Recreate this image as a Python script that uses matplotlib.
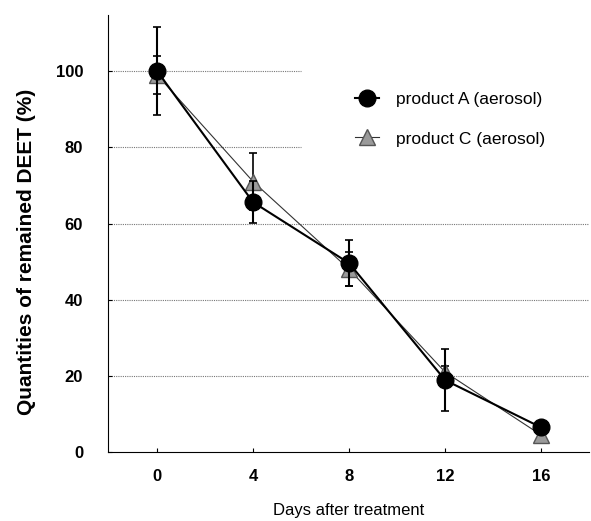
import numpy as np
import matplotlib.pyplot as plt
from matplotlib.lines import Line2D

plt.rcParams['font.family'] = ['Liberation Sans', 'DejaVu Sans']

# dati
days = [0, 4, 8, 12, 16]
prod_a = [100, 65.6, 49.6, 18.9, 6.5]
err_a = [11.5, 5.5, 6.0, 8.2, 1.5]
prod_c = [99, 71, 48, 21, 4.5]
err_c = [5.0, 7.5, 4.5, 1.5, 1.0]

yticks = [0, 20, 40, 60, 80, 100]

fig = plt.figure(figsize=(5.91, 5.21), dpi=100)
ax = fig.add_axes([0.183, 0.132, 0.814, 0.839])

# linee di griglia punteggiate (quelle alte si fermano prima della legenda)
for yv in yticks[1:]:
    xmax = 6 if yv >= 80 else 18
    ax.hlines(yv, -2, xmax, colors='#777777', linestyles=(0, (1, 1)), linewidth=0.8, zorder=1)

ax.errorbar(days, prod_c, yerr=err_c, color='#333333', linewidth=0.8,
            marker='^', markersize=11, markerfacecolor='#9a9a9a', markeredgecolor='#555555',
            ecolor='black', elinewidth=1.2, capsize=3, capthick=1.2, zorder=3)
ax.errorbar(days, prod_a, yerr=err_a, color='black', linewidth=1.5,
            marker='o', markersize=12, markerfacecolor='black', markeredgecolor='black',
            ecolor='black', elinewidth=1.5, capsize=3, capthick=1.2, zorder=4)

ax.set_xlim(-2.04, 18)
ax.set_ylim(0, 114.7)
ax.set_xticks(days)
ax.set_yticks(yticks)
ax.tick_params(direction='in', length=3, labelsize=12)
ax.tick_params(axis='x', pad=12)
ax.tick_params(axis='y', pad=18)
for lab in ax.get_xticklabels() + ax.get_yticklabels():
    lab.set_fontweight('bold')

ax.spines['top'].set_visible(False)
ax.spines['right'].set_visible(False)

ax.set_xlabel('Days after treatment', fontsize=12, labelpad=14)
ax.set_ylabel('Quantities of remained DEET (%)', fontsize=15, fontweight='bold')
ax.yaxis.set_label_coords(-0.15, 0.458)

# legenda senza barre d'errore
h_a = Line2D([], [], color='black', linewidth=1.5, marker='o', markersize=12)
h_c = Line2D([], [], color='#333333', linewidth=0.8, marker='^', markersize=11,
             markerfacecolor='#9a9a9a', markeredgecolor='#555555')
ax.legend([h_a, h_c], ['product A (aerosol)', 'product C (aerosol)'],
          loc='upper left', bbox_to_anchor=(0.48, 0.86),
          frameon=False, fontsize=12.5, labelspacing=1.4, handlelength=1.4, handletextpad=1.0)

plt.savefig('out.png', dpi=100)
